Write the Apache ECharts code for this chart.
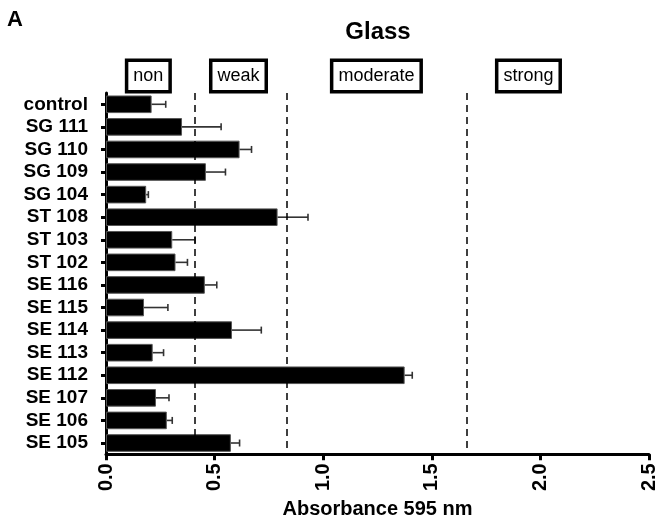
<!DOCTYPE html>
<html>
<head>
<meta charset="utf-8">
<script src="https://cdn.jsdelivr.net/npm/echarts@6/dist/echarts.min.js"></script>
<style>html,body{margin:0;padding:0;background:#fff}#c{width:659px;height:524px}</style>
</head>
<body>
<div id="c"></div>
<script>
const categories = ['control','SG 111','SG 110','SG 109','SG 104','ST 108','ST 103','ST 102','SE 116','SE 115','SE 114','SE 113','SE 112','SE 107','SE 106','SE 105'];
const means = [0.21,0.35,0.615,0.46,0.185,0.79,0.305,0.32,0.455,0.175,0.58,0.215,1.375,0.23,0.28,0.575];
const upper = [0.275,0.53,0.67,0.55,0.195,0.93,0.41,0.375,0.51,0.285,0.715,0.265,1.41,0.29,0.305,0.615];
const cutoffs = [0.415,0.83,1.66];
const classLabels = ['non','weak','moderate','strong'];
const classPos = [0.195,0.61,1.245,1.945];
const xTicks = [0.0,0.5,1.0,1.5,2.0,2.5];

const chart = echarts.init(document.getElementById('c'));
const FONT = 'Liberation Sans, Arial, sans-serif';
const errData = categories.map((c,i)=>[i, means[i], upper[i]]);

chart.setOption({
  animation:false,
  grid:{left:106,right:8,top:93,bottom:64},
  xAxis:{type:'value',min:xTicks[0],max:xTicks[xTicks.length-1],interval:0.5,
    axisLine:{show:true,lineStyle:{color:'#000',width:3}},
    axisTick:{show:true,length:6,lineStyle:{color:'#000',width:3}},
    splitLine:{show:false},
    axisLabel:{rotate:90,margin:9,color:'#000',fontFamily:FONT,fontWeight:'bold',fontSize:20,formatter:v=>v.toFixed(1)},
    name:'Absorbance 595 nm',nameLocation:'middle',nameGap:41,
    nameTextStyle:{color:'#000',fontFamily:FONT,fontWeight:'bold',fontSize:20}
  },
  yAxis:{type:'category',data:categories,inverse:true,
    axisLine:{show:true,lineStyle:{color:'#000',width:3}},
    axisTick:{show:true,alignWithLabel:true,interval:0,length:5,lineStyle:{color:'#000',width:3}},
    axisLabel:{interval:0,margin:18,color:'#000',fontFamily:FONT,fontWeight:'bold',fontSize:19}
  },
  series:[
    {type:'bar',data:means,barCategoryGap:'22%',
      itemStyle:{color:'#000',borderColor:'#555',borderWidth:1},
      markLine:{silent:true,symbol:'none',label:{show:false},
        lineStyle:{color:'#000',type:[7,5],width:1.5},
        data:cutoffs.map(v=>({xAxis:v}))}
    },
    {type:'custom',data:errData,encode:{x:[1,2],y:0},z:3,
      renderItem:function(params,api){
        const idx=api.value(0);
        const p0=api.coord([api.value(1),idx]);
        const p1=api.coord([api.value(2),idx]);
        const h=7;
        return {type:'group',children:[
          {type:'line',shape:{x1:p0[0],y1:p0[1],x2:p1[0],y2:p1[1]},style:{stroke:'#333',lineWidth:1.6}},
          {type:'line',shape:{x1:p1[0],y1:p1[1]-h/2,x2:p1[0],y2:p1[1]+h/2},style:{stroke:'#333',lineWidth:1.6}}
        ]};
      }
    }
  ]
});

const gfx=[
  {type:'text',left:7,top:9,style:{text:'A',font:'bold 22px '+FONT,fill:'#000'}},
  {type:'text',x:378,y:32,style:{text:'Glass',font:'bold 24px '+FONT,fill:'#000',align:'center',verticalAlign:'middle'}}
];
classLabels.forEach((t,i)=>{
  const px=chart.convertToPixel({xAxisIndex:0},classPos[i]);
  gfx.push({type:'text',x:px,y:76,style:{text:t,font:'18px '+FONT,fill:'#000',align:'center',verticalAlign:'middle',
    backgroundColor:'#fff',borderColor:'#000',borderWidth:3.5,padding:[5,5]}});
});
chart.setOption({graphic:gfx});
</script>
</body>
</html>
